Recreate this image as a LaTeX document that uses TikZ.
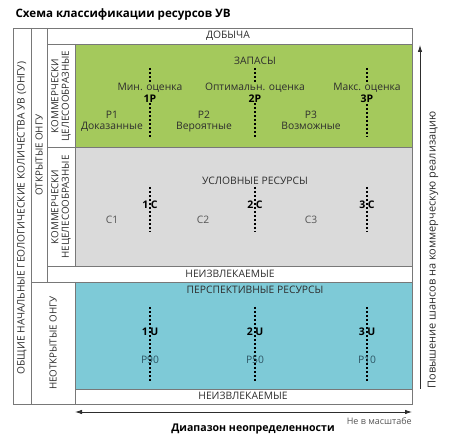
\documentclass[tikz,border=0pt]{standalone}
\usepackage{fontspec}
\setmainfont{Open Sans}
\usetikzlibrary{arrows.meta}
\definecolor{framegray}{RGB}{120,120,120}
\definecolor{zapasgreen}{RGB}{164,201,92}
\definecolor{uslgray}{RGB}{218,218,218}
\definecolor{perspblue}{RGB}{126,202,215}
\definecolor{textgray}{RGB}{45,45,45}
\definecolor{cgray}{RGB}{85,85,85}
\definecolor{pblue}{RGB}{45,85,100}

\begin{document}
\begin{tikzpicture}[x=1pt, y=-1pt,
    cell/.style={draw=framegray, line width=0.9pt},
    band_text/.style={font=\fontsize{10.3}{12}\selectfont, text=textgray, inner sep=0pt},
    side_text/.style={rotate=90, align=center, font=\fontsize{9.8}{10.5}\selectfont, text=textgray, inner sep=0pt},
    est_node/.style={font=\bfseries\fontsize{10.5}{12}\selectfont, inner sep=0pt},
    dot_line/.style={line width=2pt, dash pattern=on 2pt off 2pt},
    axis_arrow/.style={draw=textgray, line width=0.8pt, -{Latex[length=7pt,width=4.5pt]}}]

    \useasboundingbox (0,0) rectangle (450,443);

    \node[anchor=west, font=\bfseries\fontsize{11.6}{14}\selectfont] (title) at (12,14) {Схема классификации ресурсов УВ};

    \fill[zapasgreen] (75,44) rectangle (412,147);
    \fill[uslgray] (75,147) rectangle (412,266);
    \fill[perspblue] (75,282) rectangle (412,389);

    \draw[cell] (13,28) rectangle (412,404);
    \draw[cell] (31,28) -- (31,404);
    \draw[cell] (47,28) -- (47,282);
    \draw[cell] (75,44) -- (75,266);
    \draw[cell] (75,282) -- (75,404);
    \draw[cell] (47,44) -- (412,44);
    \draw[cell] (47,147) -- (412,147);
    \draw[cell] (47,266) -- (412,266);
    \draw[cell] (31,282) -- (412,282);
    \draw[cell] (75,389) -- (412,389);

    \node[side_text, font=\fontsize{10.2}{11}\selectfont] (ongu) at (22,218) {ОБЩИЕ НАЧАЛЬНЫЕ ГЕОЛОГИЧЕСКИЕ КОЛИЧЕСТВА УВ (ОНГУ)};
    \node[side_text] (open) at (39,155) {ОТКРЫТЫЕ ОНГУ};
    \node[side_text] (kom1) at (61,96) {КОММЕРЧЕСКИ\\ЦЕЛЕСООБРАЗНЫЕ};
    \node[side_text] (kom2) at (61,207) {КОММЕРЧЕСКИ\\НЕЦЕЛЕСООБРАЗНЫЕ};
    \node[side_text] (closed) at (53,343) {НЕОТКРЫТЫЕ ОНГУ};

    \node[band_text] (dobycha) at (228,36) {ДОБЫЧА};
    \node[band_text] (zapasy) at (255,61) {ЗАПАСЫ};
    \node[band_text] (uslov) at (255,181) {УСЛОВНЫЕ РЕСУРСЫ};
    \node[band_text] (neizv1) at (230,274) {НЕИЗВЛЕКАЕМЫЕ};
    \node[band_text] (persp) at (255,290) {ПЕРСПЕКТИВНЫЕ РЕСУРСЫ};
    \node[band_text] (neizv2) at (243,396) {НЕИЗВЛЕКАЕМЫЕ};

    % zapasy
    \foreach \n/\x/\est in {1/150/Мин. оценка, 2/255/Оптимальн. оценка, 3/367/Макс. оценка} {
        \coordinate (p_top\n) at (\x,68);
        \coordinate (p_bot\n) at (\x,137);
        \node[band_text, anchor=base] (p_est\n) at (\x,90.5) {\est};
        \node[est_node] (p_sym\n) at (\x,98.5) {\n P};
        \draw[dot_line] (p_top\n) -- ([yshift=1pt]p_est\n.north);
        \draw[dot_line] ([yshift=-1pt]p_sym\n.south) -- (p_bot\n);
    }
    \foreach \n/\x/\kind in {1/112/Доказанные, 2/204/Вероятные, 3/311/Возможные} {
        \node[band_text, anchor=base] (p_cat\n) at (\x,118.5) {P\n};
        \node[band_text, anchor=base] (p_kind\n) at (\x,130) {\kind};
    }

    % uslovnye
    \foreach \n/\x in {1/150, 2/255, 3/367} {
        \coordinate (c_top\n) at (\x,187);
        \coordinate (c_bot\n) at (\x,232);
        \draw[dot_line] (c_top\n) -- (c_bot\n);
        \node[est_node] (c_sym\n) at (\x,205) {\n\hspace{2.5pt}C};
    }
    \foreach \n/\x in {1/112, 2/203, 3/311}
        \node[band_text, text=cgray] (c_cat\n) at (\x,220) {C\n};

    % perspektivnye
    \foreach \n/\x/\pr in {1/150/P90, 2/255/P50, 3/367/P10} {
        \coordinate (u_top\n) at (\x,307);
        \coordinate (u_bot\n) at (\x,382);
        \draw[dot_line] (u_top\n) -- (u_bot\n);
        \node[est_node] (u_sym\n) at (\x,332) {\n\hspace{2.5pt}U};
        \node[band_text, text=pblue] (u_pr\n) at (\x,360) {\pr};
    }

    \coordinate (chance_lo) at (420,389);
    \coordinate (chance_hi) at (420,45);
    \draw[axis_arrow] (chance_lo) -- (chance_hi);
    \node[rotate=90, font=\fontsize{11}{13}\selectfont, text=textgray, inner sep=0pt] (chance) at (433,250) {Повышение шансов на коммерческую реализацию};

    \coordinate (range_l) at (75,412);
    \coordinate (range_r) at (412,412);
    \draw[axis_arrow, {Latex[length=7pt,width=4.5pt]}-{Latex[length=7pt,width=4.5pt]}] (range_l) -- (range_r);
    \node[anchor=east, font=\fontsize{9}{10}\selectfont, text=cgray, inner sep=0pt] (scale) at (412,421) {Не в масштабе};
    \node[font=\bfseries\fontsize{10.6}{13}\selectfont, inner sep=0pt] (range) at (253,429) {Диапазон неопределенности};
\end{tikzpicture}
\end{document}
